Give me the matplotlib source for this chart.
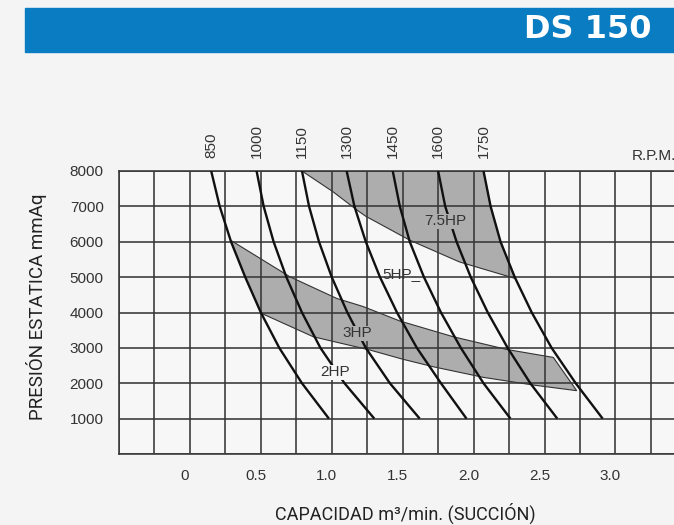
import numpy as np
import matplotlib
matplotlib.use("Agg")
import matplotlib.pyplot as plt
import matplotlib.transforms as mtransforms
from matplotlib.patches import Rectangle

plt.rcParams['font.family'] = ['Liberation Sans', 'DejaVu Sans']

### datos
presion = [8000, 7000, 6000, 5000, 4000, 3000, 2000, 1000]
rpm_labels = ["850", "1000", "1150", "1300", "1450", "1600", "1750"]
cap_850 = [0.15, 0.21, 0.29, 0.39, 0.50, 0.63, 0.79, 0.98]
cap_1000 = [0.47, 0.52, 0.59, 0.68, 0.79, 0.92, 1.09, 1.30]
cap_1150 = [0.79, 0.84, 0.91, 1.00, 1.11, 1.24, 1.41, 1.62]
cap_1300 = [1.105, 1.16, 1.24, 1.34, 1.46, 1.60, 1.77, 1.95]
cap_1450 = [1.43, 1.48, 1.55, 1.65, 1.77, 1.91, 2.07, 2.26]
cap_1600 = [1.75, 1.80, 1.88, 1.98, 2.10, 2.24, 2.40, 2.59]
cap_1750 = [2.07, 2.12, 2.19, 2.29, 2.41, 2.55, 2.72, 2.91]
curvas = [cap_850, cap_1000, cap_1150, cap_1300, cap_1450, cap_1600, cap_1750]

# zonas de potencia (poligonos)
hp75_cap = [0.79, 2.07, 2.12, 2.19, 2.295, 1.90, 1.55, 1.24, 1.18, 1.01]
hp75_pres = [8000, 8000, 7000, 6000, 4960, 5430, 6045, 6720, 6890, 7410]
hp3_cap = [0.286, 0.705, 1.035, 1.22, 1.48, 1.857, 2.233, 2.562, 2.727,
           2.42, 2.07, 1.716, 1.50, 1.27, 0.87, 0.505, 0.39]
hp3_pres = [6045, 5010, 4398, 4170, 3760, 3314, 2956, 2730, 1790,
            1950, 2166, 2466, 2680, 2938, 3314, 3975, 5000]

x_ticks = [0, 0.5, 1.0, 1.5, 2.0, 2.5, 3.0]
x_tick_labels = ["0", "0.5", "1.0", "1.5", "2.0", "2.5", "3.0"]
y_ticks = [1000, 2000, 3000, 4000, 5000, 6000, 7000, 8000]
y_tick_labels = ["1000", "2000", "3000", "4000", "5000", "6000", "7000", "8000"]

COLOR_GRID = "#363636"
COLOR_TXT = "#333333"
COLOR_BAND = "#adadad"
COLOR_FACE = "#f7f7f7"

W, H = 674, 525
fig = plt.figure(figsize=(W / 100, H / 100), dpi=100)
fig.patch.set_facecolor("#f4f4f4")

# 1. banda azul superior
fig.add_artist(Rectangle((25 / W, 1 - 52 / H), 1, 44 / H,
                         transform=fig.transFigure, color="#0a7cc1", zorder=0))
fig.text(652 / W, 1 - 30 / H, "DS 150", ha="right", va="center",
         color="white", fontsize=23, fontweight="bold", family="DejaVu Sans")

# 2. ejes
ax = fig.add_axes([119 / W, 1 - 454 / H, (W - 119) / W, (454 - 171) / H])
ax.set_facecolor(COLOR_FACE)
ax.set_xlim(-0.5, 3.413)
ax.set_ylim(0, 8000)
ax.set_xticks(x_ticks)
ax.set_xticklabels(x_tick_labels)
ax.set_xticks(np.arange(-0.5, 3.3, 0.25), minor=True)
ax.set_yticks(y_ticks)
ax.set_yticklabels(y_tick_labels)
ax.set_yticks(np.arange(0, 8001, 1000), minor=True)
ax.grid(which="both", color=COLOR_GRID, lw=1.15)
ax.tick_params(which="both", length=0)
ax.tick_params(axis="x", pad=11, labelsize=11, colors=COLOR_TXT)
ax.tick_params(axis="y", pad=11, labelsize=11, colors=COLOR_TXT)
for s in ["left", "top", "bottom"]:
    ax.spines[s].set_color(COLOR_GRID)
    ax.spines[s].set_linewidth(1.15)
ax.spines["right"].set_visible(False)

offset = mtransforms.ScaledTranslation(-5 / 100, 0, fig.dpi_scale_trans)
for lbl in ax.get_xticklabels():
    lbl.set_transform(lbl.get_transform() + offset)

# 3. zonas HP
ax.fill(hp75_cap, hp75_pres, facecolor=COLOR_BAND, edgecolor="#333333",
        lw=0.8, zorder=1)
ax.fill(hp3_cap, hp3_pres, facecolor=COLOR_BAND, edgecolor="#333333",
        lw=0.8, zorder=1)

# 4. curvas RPM
for cap, lab in zip(curvas, rpm_labels):
    ax.plot(cap, presion, color="#111111", lw=1.7, zorder=3,
            solid_capstyle="butt", solid_joinstyle="round")
    ax.annotate(lab, xy=(cap[0], 8000), xytext=(0, 9.5),
                textcoords="offset points", rotation=90,
                ha="center", va="bottom", fontsize=11, color=COLOR_TXT,
                annotation_clip=False)

# 5. etiquetas de potencia
ax.text(1.02, 2316, "2HP", ha="center", va="center", fontsize=11,
        color=COLOR_TXT, zorder=4,
        bbox=dict(facecolor=COLOR_FACE, edgecolor="none", pad=0.3))
ax.text(1.18, 3418, "3HP", ha="center", va="center", fontsize=11,
        color=COLOR_TXT, zorder=4,
        bbox=dict(facecolor=COLOR_BAND, edgecolor="none", pad=0.3))
ax.text(1.36, 5085, "5HP_", ha="left", va="center", fontsize=11,
        color=COLOR_TXT, zorder=4)
ax.text(1.80, 6580, "7.5HP", ha="center", va="center", fontsize=11,
        color=COLOR_TXT, zorder=4,
        bbox=dict(facecolor=COLOR_BAND, edgecolor="none", pad=0.3))

# 6. textos de ejes
fig.text(632 / W, 1 - 160 / H, "R.P.M.", ha="left", va="baseline",
         fontsize=11, color=COLOR_TXT)
fig.text(405 / W, 1 - 513 / H, "CAPACIDAD m³/min. (SUCCIÓN)",
         ha="center", va="center", fontsize=13, color="#222222",
         family=["Roboto", "DejaVu Sans"])
fig.text(37 / W, 1 - 307 / H, "PRESIÓN ESTATICA mmAq", rotation=90,
         ha="center", va="center", fontsize=13.5, color="#222222",
         family=["Roboto", "DejaVu Sans"])

fig.savefig("out.png", dpi=100, facecolor=fig.get_facecolor())
